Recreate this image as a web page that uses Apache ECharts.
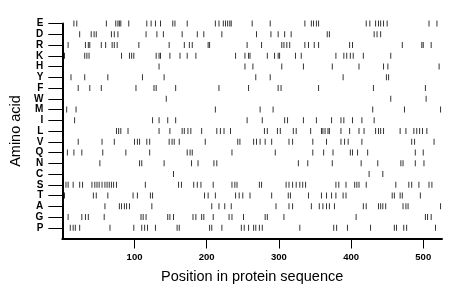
<!DOCTYPE html>
<html>
<head>
<meta charset="utf-8">
<script src="https://cdn.jsdelivr.net/npm/echarts@6/dist/echarts.min.js"></script>
<style>html,body{margin:0;padding:0;background:#fff;}#c{width:460px;height:299px;}</style>
</head>
<body>
<div id="c"></div>
<script>
// Amino acids, bottom (P) to top (E)
const aminoAcids = ['P','G','A','T','S','C','N','Q','V','L','I','M','W','F','Y','H','K','R','D','E'];
const xTicks = [100, 200, 300, 400, 500];
const seqLength = 526;

const posE = [16,20,61,74,77,79,81,92,117,123,129,136,153,156,173,212,217,223,226,229,232,234,263,288,336,345,348,352,355,421,426,434,438,441,445,450,508,519];
const posD = [24,40,44,47,68,72,77,116,131,140,166,187,196,221,269,289,299,308,317,367,370,432,436,441];
const posR = [8,32,36,38,54,60,69,72,76,106,148,169,176,180,202,204,256,276,304,307,311,315,336,341,349,355,398,402,471,498,500,511];
const posK = [3,31,34,37,82,93,96,99,130,134,136,149,163,173,185,240,253,258,260,284,294,299,301,323,331,379,390,394,399,403,417,455];
const posH = [134,253,264,304,334,374,411,445,451,522];
const posY = [12,31,63,111,141,268,288,389,449,452];
const posF = [22,38,54,102,127,130,157,217,258,299,303,355,431,503];
const posW = [144,455,504];
const posM = [6,19,212,274,292,430,474,524];
const posI = [17,125,134,146,157,256,277,308,312,334,352,373,386,390,402,415,432];
const posL = [75,78,81,91,134,149,166,169,174,178,193,214,219,224,233,280,284,298,302,320,324,344,359,361,364,368,370,386,398,411,418,434,438,441,445,468,476,487,491,495,499,505];
const posV = [1,22,55,72,100,104,107,117,121,148,152,155,162,198,243,246,265,269,274,281,290,314,319,347,366,386,391,396,415,484,488,515];
const posQ = [1,7,16,27,56,88,121,173,177,180,235,295,347,362,375,399,402,409,423,489,500];
const posN = [52,107,110,141,179,188,210,214,327,340,374,414,437,469,472,489,501];
const posC = [154,425,444];
const posS = [5,8,15,24,28,41,45,48,51,55,59,62,65,68,71,75,115,161,165,182,187,192,209,235,239,242,273,276,310,314,319,324,329,333,337,379,383,393,405,408,411,421,462,480,484,494,508,512];
const posT = [3,43,47,63,98,104,122,125,197,202,212,240,245,250,260,290,313,316,341,359,366,373,379,389,393,457,460,468,471,496];
const posA = [59,79,82,86,89,93,124,207,217,225,234,296,314,319,345,356,361,366,370,377,417,421,438,441,444,448,472,476,479,524];
const posG = [8,27,32,36,58,109,112,116,146,149,154,181,185,193,196,209,231,235,251,281,284,307,407,503,506,511];
const posP = [11,15,18,24,66,99,110,114,118,129,159,162,204,207,221,248,252,258,265,268,273,277,329,376,380,395,427,460,463,473,477,517];

const positionsByAA = {E:posE,D:posD,R:posR,K:posK,H:posH,Y:posY,F:posF,W:posW,M:posM,I:posI,L:posL,V:posV,Q:posQ,N:posN,C:posC,S:posS,T:posT,A:posA,G:posG,P:posP};

const data = [];
aminoAcids.forEach(function(aa, i){
  positionsByAA[aa].forEach(function(p){ data.push([p, i + 1]); });
});
const yVals = aminoAcids.map(function(_, i){ return i + 1; });

const chart = echarts.init(document.getElementById('c'), null, {renderer:'canvas'});
chart.setOption({
  animation: false,
  backgroundColor: '#fff',
  textStyle: {fontFamily: 'Liberation Sans, Arial, sans-serif'},
  grid: {left: 59, right: 18, top: 23.5, bottom: 60.5, containLabel: false},
  xAxis: {
    type: 'value', min: 0, max: seqLength,
    axisLine: {show: true, onZero: false, lineStyle: {color: '#000', width: 2}},
    axisTick: {show: true, length: 10, customValues: xTicks, lineStyle: {color: '#000', width: 1}},
    axisLabel: {customValues: xTicks, fontSize: 9.5, fontWeight: 'bold', color: '#000', margin: 14},
    splitLine: {show: false},
    name: 'Position in protein sequence', nameLocation: 'middle', nameGap: 31,
    nameTextStyle: {fontSize: 14.5, color: '#000'}
  },
  yAxis: {
    type: 'value', min: 0, max: 20,
    axisLine: {show: true, onZero: false, lineStyle: {color: '#000', width: 2}},
    axisTick: {show: true, length: 14, customValues: yVals, lineStyle: {color: '#000', width: 1}},
    axisLabel: {customValues: yVals, fontSize: 10, fontWeight: 'bold', color: '#000', margin: 19,
      formatter: function(v){ return aminoAcids[v - 1] || ''; }},
    splitLine: {show: false},
    name: 'Amino acid', nameLocation: 'middle', nameGap: 34, nameRotate: 90,
    nameTextStyle: {fontSize: 14.5, color: '#000'}
  },
  series: [{
    type: 'scatter',
    data: data,
    symbol: 'rect',
    symbolSize: [1, 6],
    itemStyle: {color: '#000'},
    silent: true
  }]
});
</script>
</body>
</html>
